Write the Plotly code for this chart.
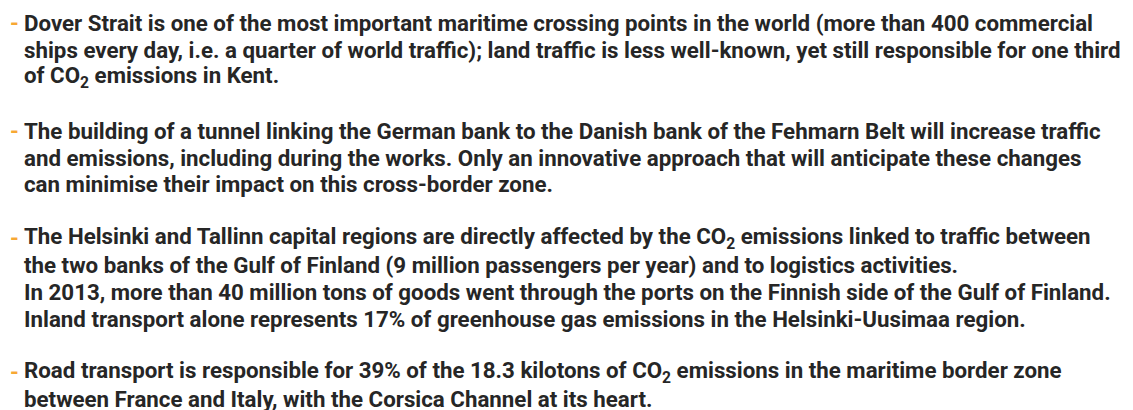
import plotly.graph_objects as go

paragraphs = [
    [
        "Dover Strait is one of the most important maritime crossing points in the world (more than 400 commercial",
        "ships every day, i.e. a quarter of world traffic); land traffic is less well-known, yet still responsible for one third",
        "of CO<sub>2</sub> emissions in Kent.",
    ],
    [
        "The building of a tunnel linking the German bank to the Danish bank of the Fehmarn Belt will increase traffic",
        "and emissions, including during the works. Only an innovative approach that will anticipate these changes",
        "can minimise their impact on this cross-border zone.",
    ],
    [
        "The Helsinki and Tallinn capital regions are directly affected by the CO<sub>2</sub> emissions linked to traffic between",
        "the two banks of the Gulf of Finland (9 million passengers per year) and to logistics activities.",
        "In 2013, more than 40 million tons of goods went through the ports on the Finnish side of the Gulf of Finland.",
        "Inland transport alone represents 17% of greenhouse gas emissions in the Helsinki-Uusimaa region.",
    ],
    [
        "Road transport is responsible for 39% of the 18.3 kilotons of CO<sub>2</sub> emissions in the maritime border zone",
        "between France and Italy, with the Corsica Channel at its heart.",
    ],
]

W, H = 1133, 410
line_h = 26.85
top = 15.3
text_x = 14
dash_x = 0
font = dict(family="Roboto", size=22.3, color="#262626")

annotations = []
row = 0
for para in paragraphs:
    for i, line in enumerate(para):
        y = top + row * line_h
        if i == 0:
            annotations.append(dict(
                x=dash_x / W, y=1 - y / H, xref="paper", yref="paper",
                text="<b>-</b>", showarrow=False, xanchor="left", yanchor="middle",
                font=dict(family="Roboto", size=22.3, color="#f7a833"),
            ))
        annotations.append(dict(
            x=text_x / W, y=1 - y / H, xref="paper", yref="paper",
            text="<b>" + line + "</b>", showarrow=False, xanchor="left", yanchor="middle",
            font=font,
        ))
        row += 1
    row += 1

fig = go.Figure()
fig.update_layout(
    width=W, height=H,
    margin=dict(l=0, r=0, t=0, b=0),
    paper_bgcolor="white", plot_bgcolor="white",
    xaxis=dict(visible=False), yaxis=dict(visible=False),
    annotations=annotations,
    showlegend=False,
)
fig.write_html("out.html")
